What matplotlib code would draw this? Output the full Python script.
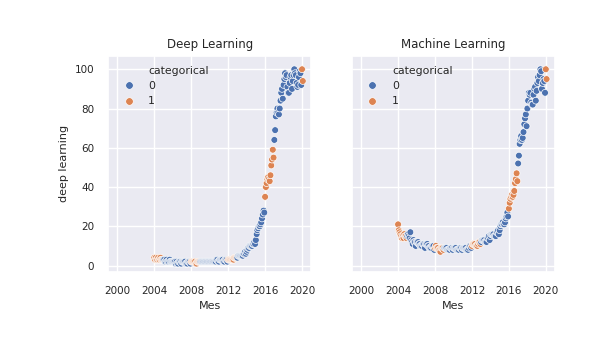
import numpy as np
import pandas as pd
import matplotlib
matplotlib.use('Agg')
import matplotlib.pyplot as plt
import matplotlib.dates as mdates
from matplotlib.lines import Line2D
import seaborn as sns

# monthly search interest, Jan 2004 onwards
deep_learning = [
    4, 3, 4, 3, 3, 4, 3, 3, 4, 3, 3, 3,            # 2004
    3, 3, 2, 2, 3, 2, 2, 2, 3, 2, 2, 2,            # 2005
    2, 2, 2, 2, 1, 2, 1, 1, 2, 2, 2, 1,            # 2006
    2, 2, 2, 2, 2, 1, 1, 1, 2, 2, 2, 1,            # 2007
    2, 2, 2, 2, 2, 2, 1, 1, 2, 2, 2, 2,            # 2008
    2, 2, 2, 2, 2, 2, 2, 2, 2, 2, 2, 2,            # 2009
    2, 2, 2, 2, 2, 2, 2, 2, 2, 3, 3, 2,            # 2010
    2, 3, 3, 3, 3, 3, 2, 2, 3, 3, 3, 2,            # 2011
    3, 3, 3, 3, 3, 3, 3, 3, 4, 4, 4, 4,            # 2012
    4, 5, 5, 5, 5, 5, 5, 5, 6, 6, 7, 6,            # 2013
    7, 8, 9, 9, 10, 10, 10, 10, 11, 11, 12, 11,    # 2014
    13, 16, 18, 19, 20, 20, 21, 22, 24, 26, 28, 27,  # 2015
    35, 40, 42, 44, 45, 44, 43, 46, 51, 54, 59, 55,  # 2016
    64, 69, 76, 78, 80, 78, 77, 80, 84, 88, 90, 85,  # 2017
    92, 95, 98, 96, 97, 91, 88, 88, 93, 96, 97, 90,  # 2018
    94, 97, 100, 98, 97, 93, 91, 92, 96, 99, 98, 92,  # 2019
    100, 94,                                         # 2020
]
machine_learning = [
    21, 18, 17, 16, 15, 14, 15, 14, 16, 15, 15, 14,  # 2004
    15, 16, 15, 14, 17, 13, 12, 11, 13, 12, 12, 10,  # 2005
    12, 12, 12, 11, 11, 10, 10, 10, 11, 11, 11, 9,   # 2006
    11, 11, 11, 10, 10, 9, 9, 9, 10, 10, 10, 8,      # 2007
    9, 10, 9, 9, 9, 8, 8, 7, 9, 9, 9, 8,             # 2008
    9, 9, 9, 9, 8, 8, 8, 8, 9, 9, 9, 8,              # 2009
    9, 9, 9, 9, 8, 8, 8, 8, 9, 9, 9, 8,              # 2010
    9, 9, 9, 9, 9, 8, 8, 8, 9, 10, 10, 9,            # 2011
    10, 11, 11, 11, 11, 10, 10, 10, 11, 12, 12, 11,  # 2012
    12, 13, 13, 13, 13, 12, 12, 12, 14, 14, 15, 13,  # 2013
    15, 16, 16, 16, 16, 15, 15, 15, 17, 17, 18, 16,  # 2014
    18, 20, 21, 21, 22, 21, 21, 22, 24, 25, 27, 25,  # 2015
    29, 32, 34, 35, 36, 35, 36, 38, 42, 44, 47, 43,  # 2016
    52, 56, 62, 64, 66, 64, 65, 68, 72, 75, 77, 71,  # 2017
    80, 84, 88, 87, 88, 83, 82, 82, 87, 90, 91, 84,  # 2018
    89, 93, 96, 94, 97, 100, 99, 90, 93, 95, 94, 88,  # 2019
    100, 95,                                          # 2020
]
start_month = '2004-01'
flag_years = [2004, 2008, 2012, 2016, 2020]   # categorical == 1
categories = [0, 1]
titles = ['Deep Learning', 'Machine Learning']
palette = ['#4C72B0', '#DD8452']

mes = pd.date_range(start_month, periods=len(deep_learning), freq='MS')
categorical = np.isin(mes.year, flag_years).astype(int)
point_colors = [palette[k] for k in categorical]

sns.set_theme(style='darkgrid')

fig, axes = plt.subplots(1, 2, sharey=True, figsize=(6.04, 3.43), dpi=100)
fig.subplots_adjust(left=0.179, right=0.919, bottom=0.208, top=0.837, wspace=0.2)

for ax, vals, title in zip(axes, [deep_learning, machine_learning], titles):
    ax.scatter(mes, vals, c=point_colors, s=24, edgecolors='white', linewidths=0.5)
    ax.set_title(title, fontsize=8.5)
    ax.set_xlabel('Mes', fontsize=8)
    ax.set_xlim(pd.Timestamp('1999-01-01'), pd.Timestamp('2021-01-01'))
    ax.xaxis.set_major_locator(mdates.YearLocator(4))
    ax.xaxis.set_major_formatter(mdates.DateFormatter('%Y'))
    ax.tick_params(labelsize=7.5, length=0, pad=10)

    handles = [Line2D([], [], linestyle='none', marker='')]
    for k in categories:
        handles.append(Line2D([], [], linestyle='none', marker='o', color=palette[k],
                              markeredgecolor='white', markeredgewidth=0.5, markersize=5.5))
    ax.legend(handles, ['categorical'] + [str(k) for k in categories],
              loc='upper left', frameon=False, fontsize=7.8)

axes[0].set_ylabel('deep learning', fontsize=8)
axes[0].set_ylim(-3.1, 106.8)
axes[0].set_yticks([0, 20, 40, 60, 80, 100])

plt.savefig('out.png', dpi=100)
